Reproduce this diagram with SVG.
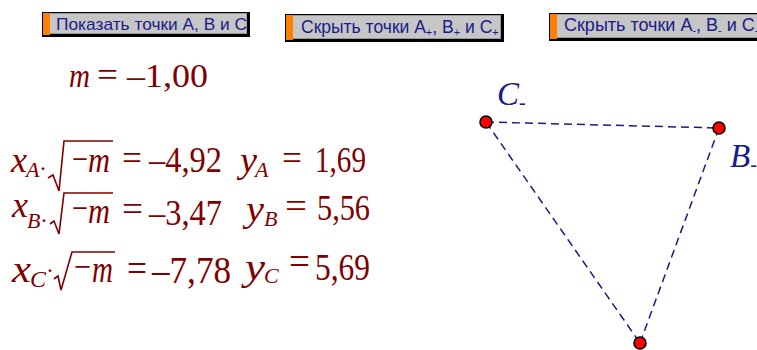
<svg xmlns="http://www.w3.org/2000/svg" width="757" height="350" viewBox="0 0 757 350">
<style>
.btn{fill:#000}
.bg{fill:#c6c6c6;stroke:#9a9a9a;stroke-width:1}
.or{fill:#ff8000}
.bt{font-family:"Liberation Sans",Arial,sans-serif;font-size:17px;fill:#1a1a8a}
.sb{font-size:11px}
.f{font-family:"Liberation Serif","Times New Roman",serif;fill:#800000;font-size:35px}
.g{font-size:37px}
.i{font-style:italic}
.s{font-size:22px;font-style:italic}
.rad{fill:none;stroke:#800000;stroke-width:1.6}
.edge{fill:none;stroke:#1a1a8a;stroke-width:1.5;stroke-dasharray:8 5}
.pt{fill:#ff0000;stroke:#000;stroke-width:1.6}
.lbl{font-family:"Liberation Serif","Times New Roman",serif;font-style:italic;font-size:33px;fill:#1a1a8a}
</style>
<rect width="757" height="350" fill="#fff"/>
<g id="btn1">
<rect class="btn" x="42" y="12" width="208" height="25"/>
<rect class="bg" x="43.5" y="13.5" width="203" height="20"/>
<rect class="or" x="43" y="13" width="7" height="22"/>
<text class="bt" x="56" y="30" textLength="191" lengthAdjust="spacingAndGlyphs">Показать точки A, B и C</text>
</g>
<g id="btn2">
<rect class="btn" x="285" y="14" width="219" height="28"/>
<rect class="bg" x="286.5" y="15.5" width="214" height="23"/>
<rect class="or" x="286" y="15" width="7" height="25"/>
<text class="bt" x="301" y="33" style="font-size:17.5px">Скрыть точки A<tspan class="sb" dy="3">+</tspan><tspan dy="-3">, B</tspan><tspan class="sb" dy="3">+</tspan><tspan dy="-3"> и C</tspan><tspan class="sb" dy="3">+</tspan></text>
</g>
<g id="btn3">
<rect class="btn" x="549" y="13" width="212" height="28"/>
<rect class="bg" x="550.5" y="14.5" width="210" height="23"/>
<rect class="or" x="550" y="14" width="7" height="25"/>
<text class="bt" x="564" y="31" style="font-size:18px">Скрыть точки A<tspan class="sb" dy="3">-</tspan><tspan dy="-3">, B</tspan><tspan class="sb" dy="3">-</tspan><tspan dy="-3"> и C</tspan><tspan class="sb" dy="3">-</tspan></text>
</g>
<g id="m-value">
<text class="f i" x="69" y="87" style="font-size:33px" textLength="21" lengthAdjust="spacingAndGlyphs">m</text>
<text class="f" x="97" y="86" style="font-size:33px" textLength="21" lengthAdjust="spacingAndGlyphs">=</text>
<text class="f" x="127" y="87" style="font-size:33px" textLength="81" lengthAdjust="spacingAndGlyphs">–1,00</text>
</g>
<g id="row-A">
<text class="f i" x="11" y="172" textLength="16" lengthAdjust="spacingAndGlyphs">x</text>
<text class="f s" x="26" y="177">A</text>
<text class="f" x="39" y="176" style="font-size:24px">·</text>
<path class="rad" d="M48,178 L53,175 L59,191 L64,141 L113,141"/>
<text class="f" x="72" y="171" textLength="16" lengthAdjust="spacingAndGlyphs">−</text>
<text class="f i" x="88" y="172" textLength="22" lengthAdjust="spacingAndGlyphs">m</text>
<text class="f" x="122" y="170" textLength="20" lengthAdjust="spacingAndGlyphs">=</text>
<text class="f" x="149" y="172" textLength="73" lengthAdjust="spacingAndGlyphs">–4,92</text>
<text class="f i" x="240" y="172" textLength="17" lengthAdjust="spacingAndGlyphs">y</text>
<text class="f s" x="255" y="177">A</text>
<text class="f" x="282" y="170" textLength="20" lengthAdjust="spacingAndGlyphs">=</text>
<text class="f" x="315" y="172" textLength="51" lengthAdjust="spacingAndGlyphs">1,69</text>
</g>
<g id="row-B">
<text class="f i" x="12" y="217" textLength="16" lengthAdjust="spacingAndGlyphs">x</text>
<text class="f s" x="27" y="228">B</text>
<text class="f" x="40" y="228" style="font-size:24px">·</text>
<path class="rad" d="M50,224 L54,221 L59,234 L64,193 L113,193"/>
<text class="f" x="72" y="220" textLength="16" lengthAdjust="spacingAndGlyphs">−</text>
<text class="f i" x="88" y="223" textLength="22" lengthAdjust="spacingAndGlyphs">m</text>
<text class="f" x="122" y="221" textLength="21" lengthAdjust="spacingAndGlyphs">=</text>
<text class="f" x="149" y="225" textLength="73" lengthAdjust="spacingAndGlyphs">–3,47</text>
<text class="f i" x="246" y="221" textLength="18" lengthAdjust="spacingAndGlyphs">y</text>
<text class="f s" x="264" y="226">B</text>
<text class="f" x="285" y="218" textLength="22" lengthAdjust="spacingAndGlyphs">=</text>
<text class="f" x="317" y="220" textLength="53" lengthAdjust="spacingAndGlyphs">5,56</text>
</g>
<g id="row-C">
<text class="f i g" x="12" y="282" textLength="19" lengthAdjust="spacingAndGlyphs">x</text>
<text class="f s" x="30" y="287" style="font-size:24px">C</text>
<text class="f" x="46" y="278" style="font-size:24px">·</text>
<path class="rad" d="M54,279 L58,276 L61,290 L72,252 L115,252"/>
<text class="f g" x="74" y="279" textLength="17" lengthAdjust="spacingAndGlyphs">−</text>
<text class="f i g" x="92" y="282" textLength="21" lengthAdjust="spacingAndGlyphs">m</text>
<text class="f g" x="127" y="281" textLength="20" lengthAdjust="spacingAndGlyphs">=</text>
<text class="f g" x="152" y="283" textLength="79" lengthAdjust="spacingAndGlyphs">–7,78</text>
<text class="f i g" x="245" y="280" textLength="20" lengthAdjust="spacingAndGlyphs">y</text>
<text class="f s" x="264" y="283">C</text>
<text class="f g" x="289" y="274" textLength="21" lengthAdjust="spacingAndGlyphs">=</text>
<text class="f g" x="315" y="280" textLength="55" lengthAdjust="spacingAndGlyphs">5,69</text>
</g>
<g id="connectors">
<line class="edge" x1="486" y1="122" x2="719" y2="128"/>
<line class="edge" x1="486" y1="122" x2="640" y2="343"/>
<line class="edge" x1="719" y1="128" x2="640" y2="343"/>
</g>
<g id="point-C">
<circle class="pt" cx="486" cy="122" r="6"/>
<text class="lbl" x="497" y="105">C<tspan style="font-size:20px" dy="4">-</tspan></text>
</g>
<g id="point-B">
<circle class="pt" cx="719" cy="128" r="6"/>
<text class="lbl" x="730" y="167">B<tspan style="font-size:20px" dy="4">-</tspan></text>
</g>
<g id="point-A">
<circle class="pt" cx="640" cy="343" r="6"/>
</g>
</svg>
